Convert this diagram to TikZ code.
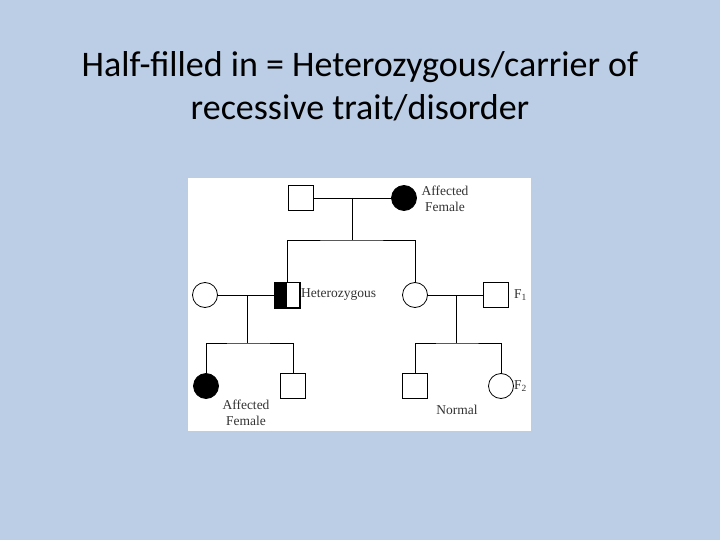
\documentclass[tikz,border=0pt]{standalone}
\usepackage{fontspec}
\setmainfont{Carlito}
\newfontfamily\ped{Liberation Serif}
\definecolor{bg}{RGB}{187,206,230}
\tikzset{
  male/.style={draw=black,line width=0.8pt,fill=white,minimum size=25pt,inner sep=0pt,rectangle},
  fem/.style={draw=black,line width=0.8pt,fill=white,minimum size=25pt,inner sep=0pt,circle},
  aff/.style={fill=black},
  ln/.style={line width=0.8pt},
  lab/.style={font=\ped\fontsize{13.5}{16}\selectfont,text=black!80,inner sep=0pt,align=center}
}
\begin{document}
\begin{tikzpicture}[x=1pt,y=-1pt]
\fill[bg] (0,0) rectangle (720,540);
\useasboundingbox (0,0) rectangle (720,540);
\node[font=\fontsize{36}{43}\selectfont,align=center] (title) at (360,86) {Half-filled in = Heterozygous/carrier of\\recessive trait/disorder};
\fill[white] (188,178) rectangle (531,431);
% generation I
\node[male] (g1m) at (301,198) {};
\node[fem,aff] (g1f) at (404,198) {};
\coordinate (c1) at (352,198);
\coordinate (c1b) at (352,240);
% generation II
\node[fem] (w) at (205,295) {};
\node[male] (het) at (287,295) {};
\fill (het.north west) rectangle (het.south);
\draw[line width=0.8pt] (het.north west) rectangle (het.south east);
\node[fem] (d) at (415,295) {};
\node[male] (h) at (496,295) {};
\coordinate (c2) at (247,295);
\coordinate (c2b) at (247,343);
\coordinate (c3) at (456,295);
\coordinate (c3b) at (456,343);
% generation III
\node[fem,aff] (a) at (206,386) {};
\node[male] (b) at (293,386) {};
\node[male] (c) at (415,386) {};
\node[fem] (e) at (501,386) {};
\draw[ln] (g1m) -- (g1f);
\draw[ln] (c1) -- (c1b);
\draw[ln] (het.north) |- (c1b) -| (d.north);
\draw[ln] (w) -- (het);
\draw[ln] (d) -- (h);
\draw[ln] (c2) -- (c2b);
\draw[ln] (a.north) |- (c2b) -| (b.north);
\draw[ln] (c3) -- (c3b);
\draw[ln] (c.north) |- (c3b) -| (e.north);
% labels
\node[lab] (l1) at (445,199) {Affected\\Female};
\node[lab,anchor=west] (l2) at (301,295) {Heterozygous};
\node[lab,anchor=west] (l3) at (514,295) {F\textsubscript{1}};
\node[lab,anchor=west] (l4) at (514,386) {F\textsubscript{2}};
\node[lab] (l5) at (246,413) {Affected\\Female};
\node[lab] (l6) at (457,410) {Normal};
\end{tikzpicture}
\end{document}
